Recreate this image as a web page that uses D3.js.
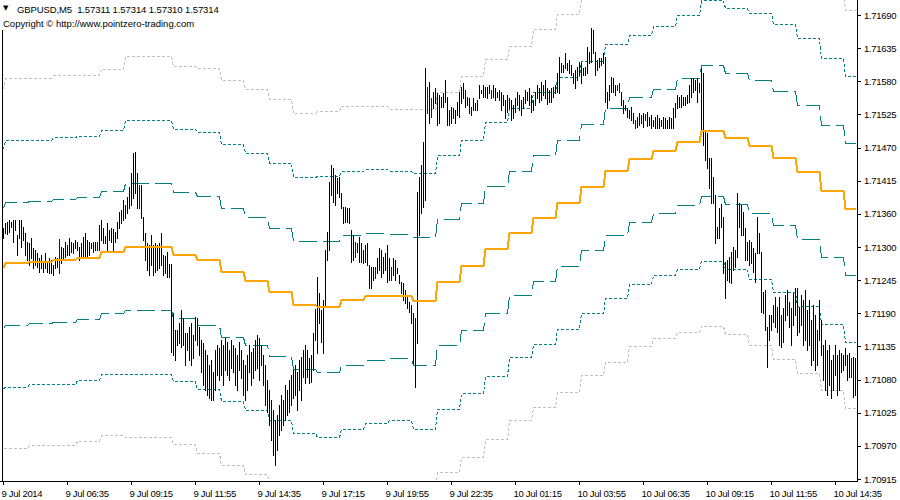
<!DOCTYPE html>
<html><head><meta charset="utf-8">
<script src="https://cdn.jsdelivr.net/npm/d3@7"></script>
<style>
html,body{margin:0;padding:0;background:#fff;}
svg{display:block;font-family:"Liberation Sans",Arial,sans-serif;}
</style></head><body><svg id="c" width="900" height="500"></svg>
<script>
// ---------------- DATA ----------------
const symbolTitle = "GBPUSD,M5  1.57311 1.57314 1.57310 1.57314";
const copyright = "Copyright \u00A9 http://www.pointzero-trading.com";
const timeLabels = ["9 Jul 2014","9 Jul 06:35","9 Jul 09:15","9 Jul 11:55","9 Jul 14:35","9 Jul 17:15","9 Jul 19:55",
  "9 Jul 22:35","10 Jul 01:15","10 Jul 03:55","10 Jul 06:35","10 Jul 09:15","10 Jul 11:55","10 Jul 14:35"];
const timeTickBars = [0,32,64,96,128,160,192,224,256,288,320,352,384,416];
const priceLabels = ["1.71690","1.71635","1.71580","1.71525","1.71470","1.71415","1.71360","1.71300",
  "1.71245","1.71190","1.71135","1.71080","1.71025","1.70970","1.70915"];
const priceTop = 1.71690, priceBottom = 1.70915;
// prices given in points: price = BASE + pts * POINT
const BASE = 1.7, POINT = 0.00001;
// M5 bars, 9 Jul 03:55 .. 10 Jul 15:25
const highPts = [
1334,1343,1344,1348,1344,1348,1348,1323,1348,1348,
1336,1326,1311,1309,1318,1301,1297,1292,1284,1289,
1277,1292,1276,1284,1281,1272,1286,1284,1316,1303,
1301,1311,1306,1318,1311,1309,1314,1311,1303,1309,
1319,1326,1314,1311,1309,1311,1311,1311,1339,1348,
1334,1321,1343,1331,1334,1333,1328,1344,1361,1364,
1381,1373,1386,1403,1426,1460,1461,1426,1406,1406,
1353,1326,1309,1306,1323,1306,1309,1306,1309,1326,
1289,1287,1294,1274,1274,1192,1164,1164,1176,1197,
1184,1159,1159,1169,1176,1156,1186,1184,1169,1147,
1142,1130,1122,1105,1114,1094,1130,1139,1134,1147,
1139,1151,1144,1130,1147,1139,1134,1122,1144,1130,
1114,1105,1122,1139,1127,1134,1147,1156,1151,1139,
1122,1105,1080,1064,1047,1030,1014,1022,1039,1055,
1047,1072,1064,1080,1089,1097,1105,1094,1114,1119,
1130,1139,1130,1117,1122,1159,1199,1252,1226,1197,
1214,1297,1327,1411,1439,1434,1423,1418,1419,1393,
1369,1369,1368,1368,1331,1323,1311,1309,1319,1309,
1297,1306,1309,1272,1269,1269,1269,1284,1301,1297,
1286,1292,1306,1284,1269,1284,1281,1267,1256,1244,
1242,1231,1219,1211,1206,1192,1184,1394,1419,1439,
1478,1601,1570,1578,1551,1561,1568,1560,1556,1553,
1560,1581,1553,1531,1536,1535,1531,1545,1561,1570,
1576,1565,1553,1551,1536,1551,1543,1548,1573,1565,
1573,1570,1570,1573,1565,1573,1568,1561,1565,1561,
1556,1548,1556,1551,1548,1540,1551,1561,1556,1548,
1553,1565,1561,1568,1556,1548,1561,1573,1568,1578,
1573,1581,1568,1565,1568,1570,1573,1593,1620,1610,
1606,1626,1610,1615,1606,1593,1598,1603,1611,1610,
1601,1603,1637,1628,1668,1665,1628,1615,1618,1618,
1626,1620,1561,1573,1586,1585,1573,1573,1576,1561,
1548,1540,1535,1531,1536,1526,1515,1520,1526,1523,
1526,1525,1528,1520,1523,1515,1520,1523,1518,1515,
1520,1518,1515,1520,1518,1535,1543,1556,1553,1556,
1553,1553,1556,1573,1585,1585,1581,1585,1576,1601,
1593,1495,1493,1451,1451,1419,1389,1336,1368,1374,
1353,1277,1281,1286,1294,1303,1297,1393,1376,1373,
1361,1334,1311,1314,1311,1301,1292,1353,1326,1294,
1227,1231,1169,1189,1189,1206,1219,1202,1219,1189,
1201,1222,1231,1211,1201,1226,1234,1234,1202,1222,
1214,1231,1197,1214,1181,1206,1189,1164,1214,1181,
1139,1147,1130,1139,1114,1122,1139,1122,1130,1126,
1122,1134,1122,1126,1117,1119,1117];
const lowPts = [
1318,1326,1324,1328,1336,1311,1331,1289,1318,1303,
1314,1289,1281,1272,1284,1267,1272,1269,1261,1267,
1261,1267,1261,1259,1259,1256,1267,1269,1259,1276,
1284,1286,1289,1289,1294,1292,1301,1297,1281,1286,
1284,1286,1286,1289,1301,1294,1297,1297,1297,1314,
1309,1309,1297,1314,1311,1294,1311,1318,1334,1343,
1348,1351,1359,1368,1373,1384,1393,1368,1368,1351,
1314,1281,1264,1256,1272,1256,1261,1264,1267,1272,
1256,1259,1253,1253,1127,1122,1114,1139,1142,1135,
1139,1105,1130,1114,1105,1117,1147,1139,1122,1094,
1072,1064,1055,1050,1047,1047,1064,1089,1080,1089,
1072,1097,1089,1080,1100,1094,1072,1064,1097,1084,
1055,1047,1064,1094,1072,1084,1097,1100,1080,1105,
1072,1039,1027,1005,980,955,938,963,989,997,
1005,1014,1022,1027,1039,1050,1055,1030,1064,1047,
1085,1075,1085,1075,1077,1097,1147,1125,1176,1144,
1125,1202,1281,1297,1389,1378,1373,1393,1386,1368,
1343,1344,1344,1343,1277,1281,1286,1294,1277,1277,
1276,1277,1272,1234,1234,1247,1251,1259,1264,1252,
1259,1264,1244,1247,1247,1256,1247,1259,1242,1226,
1214,1209,1201,1194,1176,1109,1069,1142,1323,1359,
1369,1381,1526,1510,1520,1535,1543,1506,1510,1536,
1536,1545,1506,1506,1510,1518,1510,1523,1520,1543,
1551,1536,1540,1526,1523,1531,1531,1531,1551,1560,
1553,1553,1551,1560,1551,1553,1548,1553,1548,1531,
1540,1518,1528,1535,1515,1518,1528,1540,1531,1523,
1535,1543,1548,1540,1528,1531,1540,1551,1545,1548,
1556,1551,1541,1545,1545,1553,1560,1561,1560,1595,
1595,1601,1598,1593,1590,1576,1568,1581,1590,1576,
1590,1590,1593,1610,1611,1626,1590,1598,1603,1606,
1610,1545,1535,1548,1561,1561,1556,1565,1561,1540,
1526,1531,1520,1518,1515,1510,1501,1503,1506,1510,
1503,1515,1505,1506,1501,1505,1501,1501,1501,1505,
1501,1501,1501,1501,1501,1501,1520,1535,1536,1536,
1540,1540,1543,1545,1553,1561,1565,1545,1561,1498,
1473,1448,1434,1401,1376,1376,1309,1318,1318,1336,
1259,1217,1247,1244,1242,1264,1269,1286,1336,1323,
1323,1281,1281,1272,1276,1261,1244,1292,1292,1194,
1192,1164,1102,1147,1164,1177,1169,1161,1139,1135,
1144,1181,1189,1169,1139,1172,1189,1156,1161,1172,
1139,1147,1130,1139,1105,1114,1097,1105,1147,1122,
1080,1064,1055,1072,1050,1064,1089,1055,1064,1094,
1097,1105,1080,1085,1085,1052,1055];
const blueBars = [28,47,68,176,186,194,212,214,244,307,308,316,321,424];
// hourly (H1) channel: middle line and band unit, in points (03:00 9 Jul .. 15:00 10 Jul)
const midPts = [1267,1275,1278,1280,1284,1294,1303,1303,1289,1280,1260,1245,1228,1206,1203,1214,1220,1221,1212,
  1244,1270,1299,1326,1351,1376,1403,1429,1449,1463,1478,1497,1484,1471,1451,1428,1396,1366];
const bandPts = [100,103,102,103,102,102,106,106,105,107,107,107,107,107,109,108,106,104,107,106,106,106,104,105,
  105,105,106,104,104,106,109,109,111,112,112,111,111];

// ---------------- CHART ----------------
const W = 900, H = 500, plotRight = 857, plotBottom = 481;
const svg = d3.select("#c");
const price = p => BASE + p * POINT;
const nBars = highPts.length;
const x = d3.scaleLinear().domain([0, nBars - 1]).range([3.5, 3.5 + 2 * (nBars - 1)]);
const y = d3.scaleLinear().domain([priceBottom, priceTop]).range([479, 15]);
const yc = v => Math.round(y(v)) + 0.5;
const hourOf = i => i === 0 ? 0 : Math.floor((i - 1) / 12) + 1;
const idx = d3.range(nBars);

svg.append("rect").attr("width", W).attr("height", H).attr("fill", "#fff");
const defs = svg.append("defs");
defs.append("clipPath").attr("id", "plot").append("rect")
  .attr("x", 3).attr("y", 0).attr("width", plotRight - 3).attr("height", plotBottom);
const g = svg.append("g").attr("clip-path", "url(#plot)");

// channel lines
const bandDefs = [
  {k: 3, color: "#c0c0c0", dash: "3,2", w: 1},
  {k: -3, color: "#c0c0c0", dash: "3,2", w: 1},
  {k: 2, color: "#008080", dash: "3,2", w: 1},
  {k: -2, color: "#008080", dash: "3,2", w: 1},
  {k: 1, color: "#008080", dash: "18,6", w: 1},
  {k: -1, color: "#008080", dash: "18,6", w: 1}
];
bandDefs.forEach(b => {
  const line = d3.line().x(i => x(i)).y(i => yc(price(midPts[hourOf(i)] + b.k * bandPts[hourOf(i)])));
  g.append("path").datum(idx).attr("d", line).attr("fill", "none")
    .attr("stroke", b.color).attr("stroke-width", b.w).attr("stroke-dasharray", b.dash)
    .attr("shape-rendering", "crispEdges");
});

// bars
g.append("g").selectAll("rect").data(idx).join("rect")
  .attr("x", i => x(i) - 0.5)
  .attr("y", i => Math.round(y(price(highPts[i]))))
  .attr("width", 1)
  .attr("height", i => Math.max(1, Math.round(y(price(lowPts[i]))) - Math.round(y(price(highPts[i]))) + 1))
  .attr("fill", i => blueBars.includes(i) ? "#0000ff" : "#000")
  .attr("shape-rendering", "crispEdges");

// middle line
const midLine = d3.line().x(i => x(i)).y(i => Math.round(y(price(midPts[hourOf(i)]))));
g.append("path").datum(idx).attr("d", midLine).attr("fill", "none")
  .attr("stroke", "#ffa500").attr("stroke-width", 2).attr("shape-rendering", "crispEdges");

// frame
svg.append("line").attr("x1", plotRight + 0.5).attr("x2", plotRight + 0.5).attr("y1", 0).attr("y2", plotBottom + 1)
  .attr("stroke", "#000").attr("shape-rendering", "crispEdges");
svg.append("line").attr("x1", 0).attr("x2", plotRight + 1).attr("y1", plotBottom + 0.5).attr("y2", plotBottom + 0.5)
  .attr("stroke", "#000").attr("shape-rendering", "crispEdges");
svg.append("line").attr("x1", 2.5).attr("x2", 2.5).attr("y1", 30).attr("y2", plotBottom + 1)
  .attr("stroke", "#000").attr("shape-rendering", "crispEdges");

// y axis
const tickVals = d3.range(priceLabels.length).map(k => priceTop - k * (priceTop - priceBottom) / (priceLabels.length - 1));
const yAxis = d3.axisRight(y).tickValues(tickVals).tickFormat((d, i) => priceLabels[i]).tickSize(4).tickPadding(3);
const ya = svg.append("g").attr("transform", `translate(${plotRight},0)`).call(yAxis);
ya.select(".domain").remove();
ya.selectAll(".tick line").attr("stroke", "#000").attr("shape-rendering", "crispEdges");
ya.selectAll(".tick text").attr("fill", "#000").attr("font-size", 9.5).attr("letter-spacing", -0.3)
  .attr("font-family", "Liberation Sans, Arial, sans-serif");

// x axis
const xAxis = d3.axisBottom(x).tickValues(timeTickBars).tickFormat((d, i) => timeLabels[i]).tickSize(4).tickPadding(5);
const xa = svg.append("g").attr("transform", `translate(-0.5,${plotBottom})`).call(xAxis);
xa.select(".domain").remove();
xa.selectAll(".tick line").attr("stroke", "#000").attr("shape-rendering", "crispEdges");
xa.selectAll(".tick text").attr("fill", "#000").attr("font-size", 9.5).attr("letter-spacing", -0.3)
  .attr("text-anchor", "start").attr("x", -2).attr("y", 9).attr("dy", "0.71em")
  .attr("font-family", "Liberation Sans, Arial, sans-serif");

// header
svg.append("text").attr("x", 3).attr("y", 10).attr("font-size", 7).attr("font-family", "DejaVu Sans")
  .attr("fill", "#000").text("\u25BC");
svg.append("text").attr("x", 17).attr("y", 13).attr("font-size", 9.5).attr("letter-spacing", -0.1)
  .attr("fill", "#000").attr("xml:space", "preserve").style("white-space", "pre").text(symbolTitle);
svg.append("text").attr("x", 3).attr("y", 27).attr("font-size", 9.5)
  .attr("fill", "#000").text(copyright);
</script></body></html>
